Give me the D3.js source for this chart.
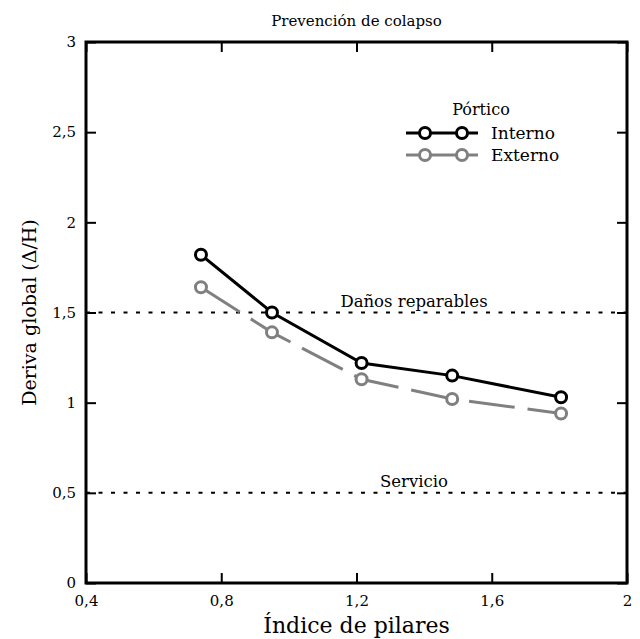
<!DOCTYPE html>
<html>
<head>
<meta charset="utf-8">
<script src="https://cdn.jsdelivr.net/npm/d3@7"></script>
<style>
  body { margin: 0; background: #fff; }
  svg { display: block; }
  text { font-family: "DejaVu Serif", "Liberation Serif", serif; fill: #000; }
</style>
</head>
<body>
<svg id="chart" width="640" height="639"></svg>
<script>
// indice de pilares (x)
var indice = [0.74, 0.95, 1.215, 1.483, 1.805];
// deriva global
var interno = [1.82, 1.50, 1.22, 1.15, 1.03];
var externo = [1.64, 1.39, 1.13, 1.02, 0.94];
var xTicks = [0.4, 0.8, 1.2, 1.6, 2];
var yTicks = [0, 0.5, 1, 1.5, 2, 2.5, 3];
var limites = [{v: 1.5, label: "Daños reparables"}, {v: 0.5, label: "Servicio"}];

var width = 640, height = 639;
var margin = {top: 42, right: 13, bottom: 56, left: 86};
var svg = d3.select("#chart");

var x = d3.scaleLinear().domain([0.4, 2]).range([margin.left, width - margin.right]);
var y = d3.scaleLinear().domain([0, 3]).range([height - margin.bottom, margin.top]);

var fmt = function(d) { return String(d).replace(".", ","); };

// limit lines (dotted)
limites.forEach(function(l) {
    svg.append("line")
        .attr("x1", x(0.4)).attr("x2", x(2))
        .attr("y1", y(l.v)).attr("y2", y(l.v))
        .attr("stroke", "#000").attr("stroke-width", 2)
        .attr("stroke-dasharray", "4,8.5");
    svg.append("text")
        .attr("x", 414).attr("y", y(l.v) - 6)
        .attr("text-anchor", "middle")
        .style("font-size", "16.5px")
        .text(l.label);
});

// axes, ticks inside on all four sides
var tickLen = 10;
svg.append("g").attr("transform", "translate(0," + y(0) + ")")
    .call(d3.axisBottom(x).tickValues(xTicks).tickFormat(fmt).tickSizeInner(-tickLen).tickSizeOuter(0).tickPadding(12))
    .call(function(g) { g.select(".domain").remove(); });
svg.append("g").attr("transform", "translate(0," + y(3) + ")")
    .call(d3.axisTop(x).tickValues(xTicks).tickFormat("").tickSizeInner(-tickLen).tickSizeOuter(0))
    .call(function(g) { g.select(".domain").remove(); });
svg.append("g").attr("transform", "translate(" + x(0.4) + ",0)")
    .call(d3.axisLeft(y).tickValues(yTicks).tickFormat(fmt).tickSizeInner(-tickLen).tickSizeOuter(0).tickPadding(10))
    .call(function(g) { g.select(".domain").remove(); });
svg.append("g").attr("transform", "translate(" + x(2) + ",0)")
    .call(d3.axisRight(y).tickValues(yTicks).tickFormat("").tickSizeInner(-tickLen).tickSizeOuter(0))
    .call(function(g) { g.select(".domain").remove(); });

svg.selectAll(".tick line").attr("stroke", "#000").attr("stroke-width", 2);
svg.selectAll(".tick text")
    .style("font-family", "'DejaVu Serif', serif")
    .style("font-size", "15px")
    .attr("fill", "#000");

// frame
svg.append("rect")
    .attr("x", x(0.4)).attr("y", y(3))
    .attr("width", x(2) - x(0.4)).attr("height", y(0) - y(3))
    .attr("fill", "none").attr("stroke", "#000").attr("stroke-width", 3);

// series
var series = [
    {name: "Interno", values: interno, color: "#000", dash: null},
    {name: "Externo", values: externo, color: "#808080", dash: "46,13"}
];
var line = d3.line().x(function(d) { return x(d[0]); }).y(function(d) { return y(d[1]); });

series.slice().reverse().forEach(function(s) {
    var pts = indice.map(function(v, i) { return [v, s.values[i]]; });
    svg.append("path")
        .datum(pts)
        .attr("d", line)
        .attr("fill", "none")
        .attr("stroke", s.color)
        .attr("stroke-width", 3)
        .attr("stroke-dasharray", s.dash);
    svg.selectAll(null)
        .data(pts).enter().append("circle")
        .attr("cx", function(d) { return x(d[0]); })
        .attr("cy", function(d) { return y(d[1]); })
        .attr("r", 5.5)
        .attr("fill", "#fff")
        .attr("stroke", s.color)
        .attr("stroke-width", 3);
});

// legend
var lg = svg.append("g");
lg.append("text").attr("x", 481).attr("y", 115)
    .attr("text-anchor", "middle").style("font-size", "16px").text("Pórtico");
series.forEach(function(s, i) {
    var ly = 133 + i * 22;
    lg.append("line").attr("x1", 406).attr("x2", 478).attr("y1", ly).attr("y2", ly)
        .attr("stroke", s.color).attr("stroke-width", 3);
    [425, 462].forEach(function(cx) {
        lg.append("circle").attr("cx", cx).attr("cy", ly).attr("r", 5.5)
            .attr("fill", "#fff").attr("stroke", s.color).attr("stroke-width", 3);
    });
    lg.append("text").attr("x", 491).attr("y", ly + 6)
        .style("font-size", "17px").text(s.name);
});

// titles
svg.append("text")
    .attr("x", (x(0.4) + x(2)) / 2).attr("y", 26)
    .attr("text-anchor", "middle").style("font-size", "15px")
    .text("Prevención de colapso");
svg.append("text")
    .attr("x", (x(0.4) + x(2)) / 2).attr("y", 633)
    .attr("text-anchor", "middle").style("font-size", "22px")
    .text("Índice de pilares");
svg.append("text")
    .attr("transform", "translate(36," + (y(0) + y(3)) / 2 + ") rotate(-90)")
    .attr("text-anchor", "middle").style("font-size", "19px")
    .text("Deriva global (Δ/H)");
</script>
</body>
</html>
